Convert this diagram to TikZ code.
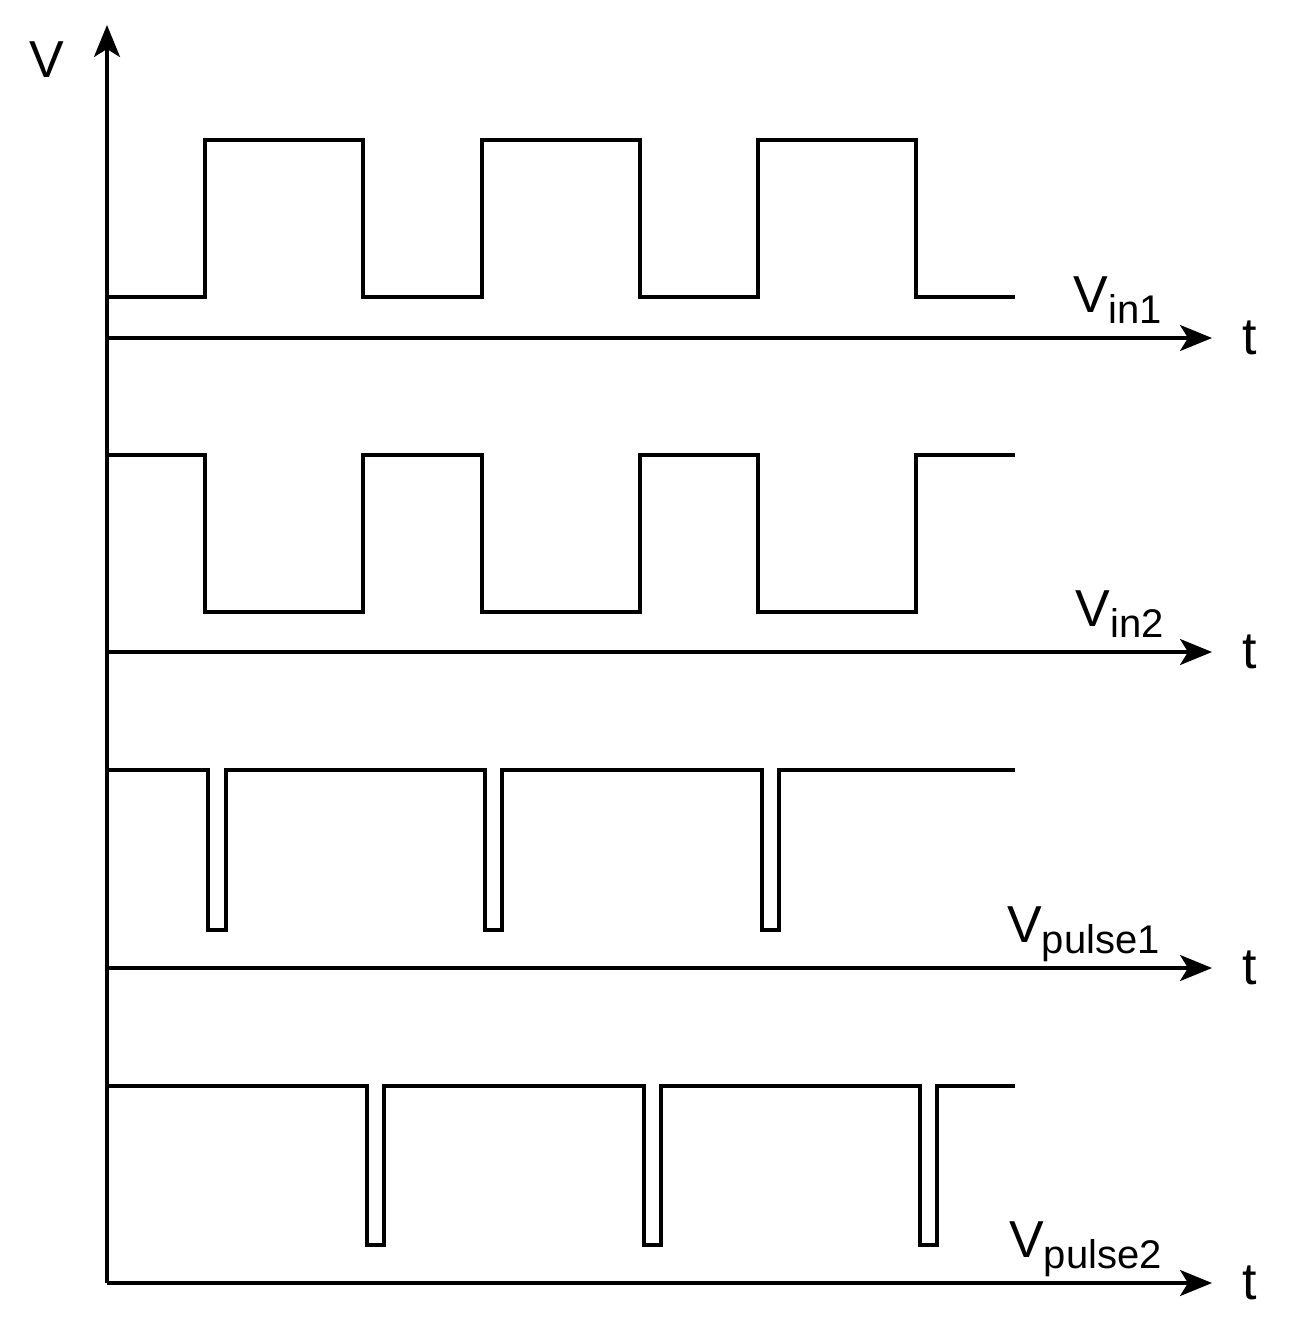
\documentclass[tikz,border=0pt]{standalone}
\usepackage{fontspec}
\setmainfont{Liberation Sans}
\usetikzlibrary{arrows.meta}
\newcommand{\lbl}[2]{V\raisebox{-11pt}{\fontsize{40}{46}\selectfont #2}}
\begin{document}
\begin{tikzpicture}[x=1pt,y=-1pt,
  wave/.style={line width=3.2pt,line join=miter},
  axis/.style={line width=3.2pt,-{Stealth[length=32pt,width=26pt,inset=8pt]}},
  lab/.style={font=\fontsize{52}{58}\selectfont,inner sep=0pt}]
\useasboundingbox (0,0) rectangle (1295,1335);
\coordinate (o) at (107,1283);
\coordinate (vtop) at (107,25);
\draw[axis] (o) -- (vtop);
\foreach \y/\n in {338/a,652/b,968/c,1283/d}{
  \coordinate (s\n) at (107,\y);
  \coordinate (e\n) at (1212,\y);
  \draw[axis] (s\n) -- (e\n);
  \node[lab] (t\n) at (1250,\y) {t};
}
\node[lab] (V) at (47,60) {V};
\draw[wave] (107,297) -- (205,297) -- (205,140) -- (363,140) -- (363,297) -- (482,297) -- (482,140) -- (640,140) -- (640,297) -- (758,297) -- (758,140) -- (916,140) -- (916,297) -- (1015,297);
\draw[wave] (107,455) -- (205,455) -- (205,612) -- (363,612) -- (363,455) -- (482,455) -- (482,612) -- (640,612) -- (640,455) -- (758,455) -- (758,612) -- (916,612) -- (916,455) -- (1015,455);
\draw[wave] (107,770) -- (208,770) -- (208,930) -- (226,930) -- (226,770) -- (485,770) -- (485,930) -- (502,930) -- (502,770) -- (762,770) -- (762,930) -- (779,930) -- (779,770) -- (1015,770);
\draw[wave] (107,1086) -- (367,1086) -- (367,1245) -- (384,1245) -- (384,1086) -- (644,1086) -- (644,1245) -- (661,1245) -- (661,1086) -- (920,1086) -- (920,1245) -- (937,1245) -- (937,1086) -- (1015,1086);
\node[lab,anchor=base east] (l1) at (1162,312) {\lbl{}{in1}};
\node[lab,anchor=base east] (l2) at (1164,626) {\lbl{}{in2}};
\node[lab,anchor=base east] (l3) at (1160,942) {\lbl{}{pulse1}};
\node[lab,anchor=base east] (l4) at (1162,1257) {\lbl{}{pulse2}};
\end{tikzpicture}
\end{document}
